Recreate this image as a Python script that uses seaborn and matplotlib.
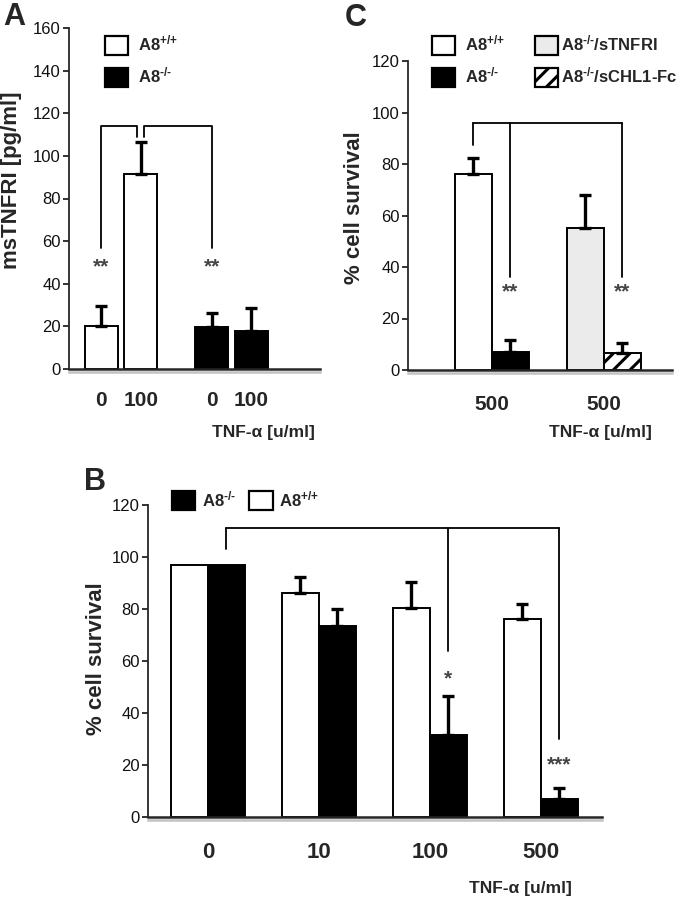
import numpy as np
import pandas as pd
import seaborn as sns
import matplotlib.pyplot as plt
import matplotlib.patheffects as pe
from matplotlib.patches import Patch
from matplotlib.container import BarContainer

sns.set_style('ticks')
plt.rcParams['font.family'] = ['Liberation Sans', 'DejaVu Sans']
plt.rcParams['mathtext.fontset'] = 'custom'
plt.rcParams['mathtext.rm'] = 'Liberation Sans:bold'
plt.rcParams['mathtext.it'] = 'Liberation Sans:bold'
plt.rcParams['mathtext.bf'] = 'Liberation Sans:bold'
plt.rcParams['hatch.linewidth'] = 2.2

# Panel A: msTNFRI release
a_genotype = ['A8+/+', 'A8+/+', 'A8-/-', 'A8-/-']
a_dose = ['0', '100', '0', '100']
a_value = [20, 91.5, 19.5, 18]
a_err = [9.5, 15, 7, 10.5]

# Panel B: cell survival vs TNF dose
b_dose = ['0', '10', '100', '500']
b_wt = [97, 86, 80.5, 76]
b_wt_err = [0, 6.5, 10, 6]
b_ko = [97, 73.5, 31.5, 7]
b_ko_err = [0, 6.5, 15, 4]

# Panel C: rescue at 500 u/ml
c_condition = ['A8+/+', 'A8-/-', 'A8-/-/sTNFRI', 'A8-/-/sCHL1-Fc']
c_group = ['ctrl', 'ctrl', 'rescue', 'rescue']
c_slot = ['left', 'right', 'left', 'right']
c_dose = ['500', '500']
c_value = [76, 7, 55, 6.5]
c_err = [6.5, 4.5, 13, 4]

# significance brackets: top level, drop levels; stars (text, level)
a_bracket_top, a_bracket_drops = 114, [57, 109, 109, 57]
a_stars = [('**', 48), ('**', 48)]
b_bracket_top, b_bracket_drops = 111, [103, 64, 30]
b_stars = [('*', 53), ('***', 20)]
c_bracket_top, c_bracket_drops = 96, [87.5, 36, 36]
c_stars = [('**', 30.5), ('**', 30.5)]

colors = {'A8+/+': 'white', 'A8-/-': 'black', 'A8-/-/sTNFRI': '#ebebeb', 'A8-/-/sCHL1-Fc': 'white'}
hatches = {'A8-/-/sCHL1-Fc': '//'}

W, H = 686, 899
fig = plt.figure(figsize=(W / 100, H / 100), dpi=100)


def px_axes(left, right, top, bottom):
    return fig.add_axes([left / W, 1 - bottom / H, (right - left) / W, (bottom - top) / H])


def draw_bars(ax, df, x, hue, order, hue_order, width, gap=0.0):
    sns.barplot(data=df, x=x, y='value', hue=hue, order=order, hue_order=hue_order,
                errorbar=None, width=width, gap=gap, legend=False, ax=ax,
                edgecolor='black', linewidth=1.4, zorder=2)
    conts = [c for c in ax.containers if isinstance(c, BarContainer)]
    out = {}
    for i, cont in enumerate(conts):
        bars = sorted(cont.patches, key=lambda p: p.get_x())
        for j, p in enumerate(bars):
            row = df[(df[x] == order[j]) & (df[hue] == hue_order[i])].iloc[0]
            p.set_facecolor(colors[row['cond']])
            p.set_edgecolor('black')
            if row['cond'] in hatches:
                p.set_hatch(hatches[row['cond']])
            cx = p.get_x() + p.get_width() / 2
            if row['err'] > 0:
                ax.errorbar(cx, row['value'], yerr=[[0], [row['err']]], fmt='none',
                            ecolor='black', elinewidth=2.4, capsize=4, capthick=2.4, zorder=3)
            out[(order[j], hue_order[i])] = cx
    return out


def style(ax, ymax, xlim, ticksize):
    sns.despine(ax=ax)
    ax.set_ylim(0, ymax)
    ax.set_xlim(*xlim)
    ax.set_yticks(np.arange(0, ymax + 1, 20))
    ax.tick_params(axis='y', length=4, width=1.2, pad=2, labelsize=12, colors='#111')
    ax.tick_params(axis='x', length=0, pad=16, labelsize=ticksize)
    ax.spines['left'].set_linewidth(1.3)
    ax.spines['bottom'].set_linewidth(1.8)
    ax.spines['bottom'].set_path_effects([
        pe.SimpleLineShadow(offset=(0, -2.2), shadow_color='#999999', alpha=0.6), pe.Normal()])
    ax.set_xlabel('')
    ax.set_ylabel('')


def bracket(ax, xs, top, drops, lw=1.3):
    for xa, ya in zip(xs, drops):
        ax.plot([xa, xa], [ya, top], color='black', lw=lw, zorder=4)
    ax.plot([xs[0], xs[-1]], [top, top], color='black', lw=lw, zorder=4)


def stars(ax, xs, items):
    for xa, (txt, y) in zip(xs, items):
        ax.text(xa, y, txt, ha='center', va='center', fontsize=15, fontweight='bold', color='#444')


sup = {'A8+/+': r'A8$^{\text{+/+}}$', 'A8-/-': r'A8$^{\text{-/-}}$',
       'A8-/-/sTNFRI': r'A8$^{\text{-/-}}$/sTNFRI', 'A8-/-/sCHL1-Fc': r'A8$^{\text{-/-}}$/sCHL1-Fc'}


def handles(conds):
    return [Patch(facecolor=colors[c], edgecolor='black', lw=1.6, hatch=hatches.get(c), label=sup[c])
            for c in conds]


leg_kw = dict(frameon=False, prop={'weight': 'bold', 'size': 12}, handlelength=1.4, handleheight=1.4,
              handletextpad=0.6, labelspacing=0.65, borderpad=0, borderaxespad=0, loc='upper left')

# ---------------- Panel A ----------------
axA = px_axes(69, 320, 28, 369)
dfA = pd.DataFrame({'geno': a_genotype, 'dose': a_dose, 'value': a_value, 'err': a_err, 'cond': a_genotype})
cA = draw_bars(axA, dfA, 'geno', 'dose', ['A8+/+', 'A8-/-'], ['0', '100'], width=0.714, gap=0.165)
style(axA, 160, (-0.47, 1.8), 15)
keysA = [('A8+/+', '0'), ('A8+/+', '100'), ('A8-/-', '0'), ('A8-/-', '100')]
axA.set_xticks([cA[k] for k in keysA])
axA.set_xticklabels(a_dose, fontweight='bold', fontsize=15)
axA.tick_params(axis='x', pad=16)
xa0, xa1, xa2 = cA[keysA[0]], cA[keysA[1]], cA[keysA[2]]
off = 0.03
axA.plot([xa0, xa0, xa1 - off, xa1 - off], [a_bracket_drops[0], a_bracket_top, a_bracket_top, a_bracket_drops[1]],
         color='black', lw=1.3, zorder=4)
axA.plot([xa1 + off, xa1 + off, xa2, xa2], [a_bracket_drops[2], a_bracket_top, a_bracket_top, a_bracket_drops[3]],
         color='black', lw=1.3, zorder=4)
stars(axA, [xa0, xa2], a_stars)
axA.legend(handles=handles(['A8+/+', 'A8-/-']), bbox_to_anchor=(105 / W, 1 - 34 / H),
           bbox_transform=fig.transFigure, **leg_kw)
fig.text(12 / W, 1 - 180 / H, 'msTNFRI [pg/ml]', rotation=90, ha='center', va='center',
         fontsize=16, fontweight='bold')
fig.text(263 / W, 1 - 433 / H, 'TNF-α [u/ml]', ha='center', va='center', fontsize=12.5, fontweight='bold')
fig.text(14 / W, 1 - 2 / H, 'A', ha='center', va='top', fontsize=22, fontweight='bold')

# ---------------- Panel C ----------------
axC = px_axes(408, 672, 61, 370)
dfC = pd.DataFrame({'group': c_group, 'slot': c_slot, 'value': c_value, 'err': c_err, 'cond': c_condition})
cC = draw_bars(axC, dfC, 'group', 'slot', ['ctrl', 'rescue'], ['left', 'right'], width=0.66)
style(axC, 120, (-0.75, 1.61), 15)
axC.set_xticks([0, 1])
axC.set_xticklabels(c_dose, fontweight='bold', fontsize=15)
axC.tick_params(axis='x', pad=18)
xsC = [cC[('ctrl', 'left')], cC[('ctrl', 'right')], cC[('rescue', 'right')]]
bracket(axC, xsC, c_bracket_top, c_bracket_drops)
stars(axC, xsC[1:], c_stars)
legC1 = axC.legend(handles=handles(['A8+/+', 'A8-/-']), bbox_to_anchor=(432 / W, 1 - 34 / H),
                   bbox_transform=fig.transFigure, **leg_kw)
axC.add_artist(legC1)
axC.legend(handles=handles(['A8-/-/sTNFRI', 'A8-/-/sCHL1-Fc']), bbox_to_anchor=(535 / W, 1 - 34 / H),
           bbox_transform=fig.transFigure, **dict(leg_kw, handletextpad=0.15))
fig.text(355 / W, 1 - 208 / H, '% cell survival', rotation=90, ha='center', va='center',
         fontsize=16, fontweight='bold')
fig.text(600 / W, 1 - 433 / H, 'TNF-α [u/ml]', ha='center', va='center', fontsize=12.5, fontweight='bold')
fig.text(356 / W, 1 - 3 / H, 'C', ha='center', va='top', fontsize=22, fontweight='bold')

# ---------------- Panel B ----------------
axB = px_axes(148, 602, 505, 817)
dfB = pd.DataFrame({'dose': b_dose * 2, 'geno': ['A8+/+'] * 4 + ['A8-/-'] * 4,
                    'value': b_wt + b_ko, 'err': b_wt_err + b_ko_err})
dfB['cond'] = dfB['geno']
cB = draw_bars(axB, dfB, 'dose', 'geno', b_dose, ['A8+/+', 'A8-/-'], width=0.667)
style(axB, 120, (-0.54, 3.55), 16)
axB.set_xticks(range(len(b_dose)))
axB.set_xticklabels(b_dose, fontweight='bold', fontsize=16)
axB.tick_params(axis='x', pad=18)
xsB = [cB[('0', 'A8-/-')], cB[('100', 'A8-/-')], cB[('500', 'A8-/-')]]
bracket(axB, xsB, b_bracket_top, b_bracket_drops)
stars(axB, xsB[1:], b_stars)
axB.legend(handles=handles(['A8-/-', 'A8+/+']), bbox_to_anchor=(172 / W, 1 - 489 / H),
           bbox_transform=fig.transFigure, ncol=2, columnspacing=0.8, **dict(leg_kw, handletextpad=0.4))
fig.text(97 / W, 1 - 659 / H, '% cell survival', rotation=90, ha='center', va='center',
         fontsize=16, fontweight='bold')
fig.text(520 / W, 1 - 888 / H, 'TNF-α [u/ml]', ha='center', va='center', fontsize=12.5, fontweight='bold')
fig.text(95 / W, 1 - 467 / H, 'B', ha='center', va='top', fontsize=22, fontweight='bold')

fig.savefig('out.png', dpi=100)
